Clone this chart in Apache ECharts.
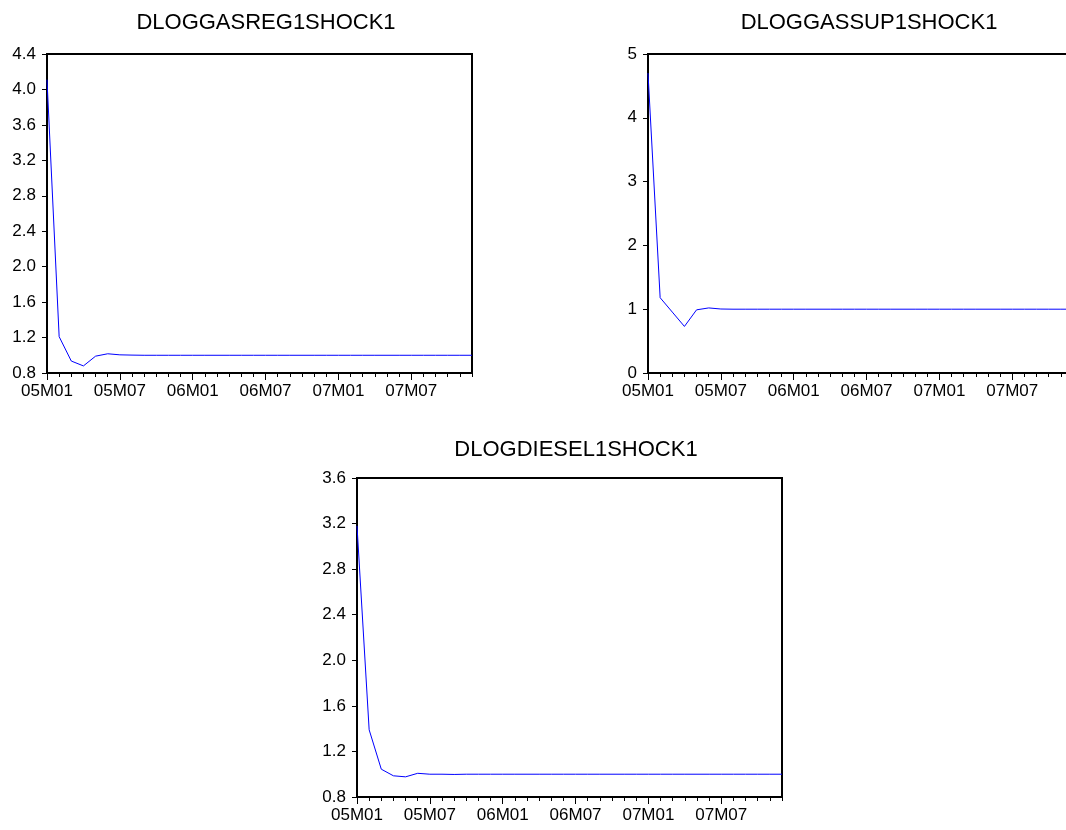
<!DOCTYPE html>
<html>
<head>
<meta charset="utf-8">
<script src="https://cdn.jsdelivr.net/npm/echarts@6/dist/echarts.min.js"></script>
<style>
  html, body { margin: 0; padding: 0; background: #fff; }
  #chart { width: 1066px; height: 830px; }
</style>
</head>
<body>
<div id="chart"></div>
<script>
// months 05M01 .. 07M12
const months = [
  '05M01','05M02','05M03','05M04','05M05','05M06','05M07','05M08','05M09','05M10','05M11','05M12',
  '06M01','06M02','06M03','06M04','06M05','06M06','06M07','06M08','06M09','06M10','06M11','06M12',
  '07M01','07M02','07M03','07M04','07M05','07M06','07M07','07M08','07M09','07M10','07M11','07M12'
];

const gasRegShock = [4.11, 1.21, 0.935, 0.88, 0.99, 1.017, 1.005, 1.002, 1.0, 1.0, 1.0, 1.0,
  1.0, 1.0, 1.0, 1.0, 1.0, 1.0, 1.0, 1.0, 1.0, 1.0, 1.0, 1.0,
  1.0, 1.0, 1.0, 1.0, 1.0, 1.0, 1.0, 1.0, 1.0, 1.0, 1.0, 1.0];

const gasSupShock = [4.70, 1.18, 0.955, 0.73, 0.99, 1.02, 1.003, 1.0, 1.0, 1.0, 1.0, 1.0,
  1.0, 1.0, 1.0, 1.0, 1.0, 1.0, 1.0, 1.0, 1.0, 1.0, 1.0, 1.0,
  1.0, 1.0, 1.0, 1.0, 1.0, 1.0, 1.0, 1.0, 1.0, 1.0, 1.0, 1.0];

const dieselShock = [3.18, 1.39, 1.044, 0.986, 0.977, 1.008, 1.0, 1.0, 0.998, 1.0, 1.0, 1.0,
  1.0, 1.0, 1.0, 1.0, 1.0, 1.0, 1.0, 1.0, 1.0, 1.0, 1.0, 1.0,
  1.0, 1.0, 1.0, 1.0, 1.0, 1.0, 1.0, 1.0, 1.0, 1.0, 1.0, 1.0];

const titles = ['DLOGGASREG1SHOCK1', 'DLOGGASSUP1SHOCK1', 'DLOGDIESEL1SHOCK1'];

const font = 'Liberation Sans, Arial, sans-serif';

// panel boxes: left, top, width, height (second one runs past the right edge, like the source)
const panels = [
  {left: 47, top: 54, width: 425, height: 319, min: 0.8, max: 4.4, step: 0.4, dec: 1, data: gasRegShock, tx: 261, ty: 7},
  {left: 648, top: 54, width: 425, height: 319, min: 0, max: 5, step: 1, dec: 0, data: gasSupShock, tx: 864, ty: 7},
  {left: 357, top: 478, width: 425, height: 319, min: 0.8, max: 3.6, step: 0.4, dec: 1, data: dieselShock, tx: 571, ty: 434}
];

const chart = echarts.init(document.getElementById('chart'));

let grid = [], xAxis = [], yAxis = [], series = [], title = [];
panels.forEach(function (p, i) {
  grid.push({left: p.left, top: p.top, width: p.width, height: p.height,
    outerBoundsMode: 'none', containLabel: false,
    show: true, borderColor: '#000', borderWidth: 2, backgroundColor: '#fff'});
  title.push({text: titles[i], left: p.tx, top: p.ty, textAlign: 'center',
    textStyle: {fontFamily: font, fontSize: 22, fontWeight: 'normal', color: '#000'}});
  // month ticks + labels
  xAxis.push({type: 'category', gridIndex: i, data: months, boundaryGap: false,
    axisLine: {lineStyle: {color: '#000', width: 2}},
    axisTick: {interval: 0, length: 4, lineStyle: {color: '#000'}},
    axisLabel: {interval: 5, margin: 10, color: '#000', fontFamily: font, fontSize: 17},
    splitLine: {show: false}});
  // longer ticks every 6 months
  xAxis.push({type: 'category', gridIndex: i, data: months, boundaryGap: false, position: 'bottom',
    axisLine: {show: false},
    axisTick: {interval: 5, length: 7, lineStyle: {color: '#000'}},
    axisLabel: {show: false}, splitLine: {show: false}});
  yAxis.push({type: 'value', gridIndex: i, min: p.min, max: p.max, interval: p.step,
    axisLine: {show: true, lineStyle: {color: '#000', width: 2}},
    axisTick: {show: true, length: 5, lineStyle: {color: '#000'}},
    axisLabel: {margin: 11, color: '#000', fontFamily: font, fontSize: 17,
      formatter: function (v) { return v.toFixed(p.dec); }},
    splitLine: {show: false}});
  series.push({type: 'line', xAxisIndex: i * 2, yAxisIndex: i, data: p.data,
    showSymbol: false, lineStyle: {color: '#0000ff', width: 1}, silent: true});
});

chart.setOption({
  animation: false,
  backgroundColor: '#fff',
  title: title,
  grid: grid,
  xAxis: xAxis,
  yAxis: yAxis,
  series: series
});
</script>
</body>
</html>
